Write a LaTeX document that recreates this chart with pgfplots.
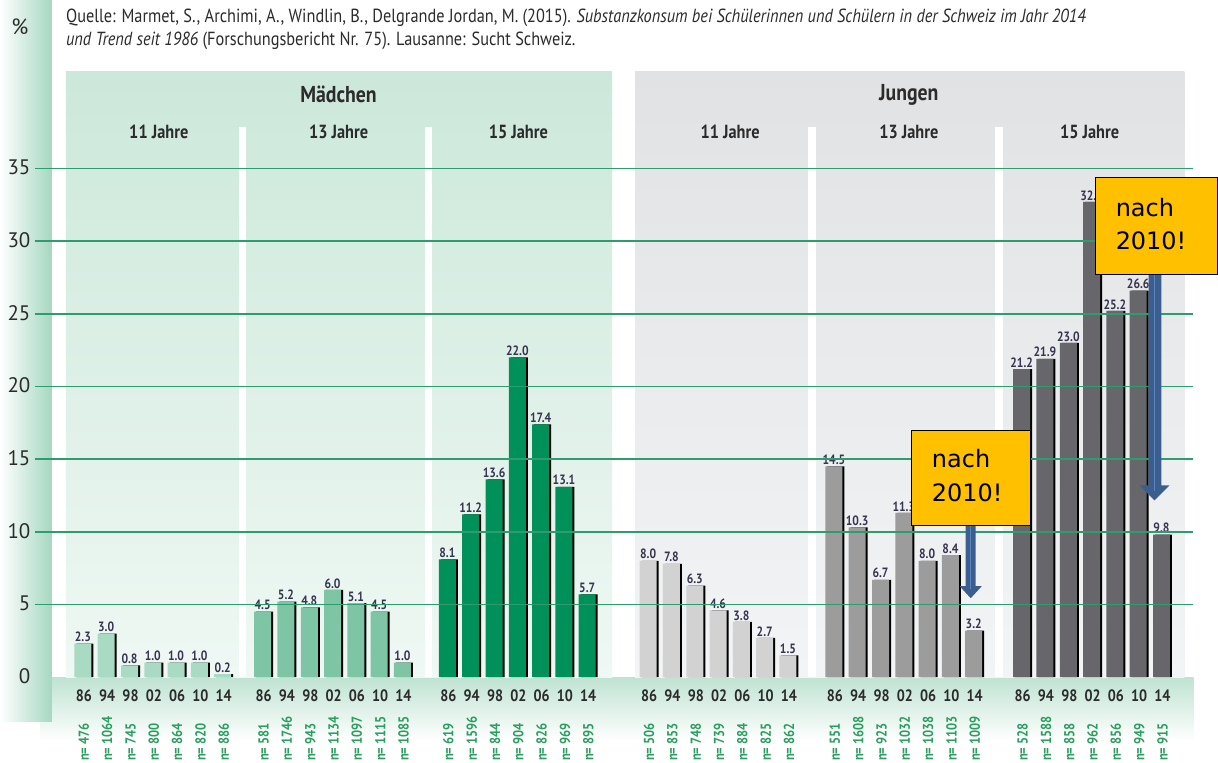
\documentclass[border=0pt]{standalone}
\usepackage{pgfplots}
\pgfplotsset{compat=1.18}
\usepackage{fontspec}
\setmainfont{PT Sans}[FakeStretch=0.86]
\newfontfamily\regfont{PT Sans}
\newfontfamily\callfont{DejaVu Sans}

\definecolor{txt}{HTML}{2B2B2B}
\definecolor{lab}{HTML}{38334F}
\definecolor{mA}{HTML}{A9DAC3}
\definecolor{mB}{HTML}{7EC5A6}
\definecolor{mC}{HTML}{00915A}
\definecolor{jA}{HTML}{D2D2D3}
\definecolor{jB}{HTML}{9C9C9D}
\definecolor{jC}{HTML}{67666B}
\definecolor{gridc}{HTML}{2E9C6E}
\definecolor{ncol}{HTML}{2A9D5F}
\definecolor{mpanT}{HTML}{CCE8DA}
\definecolor{mpanB}{HTML}{EFF8F4}
\definecolor{jpanT}{HTML}{E1E2E4}
\definecolor{jpanB}{HTML}{F3F4F5}
\definecolor{strip}{HTML}{A6D7C1}
\definecolor{band}{HTML}{BFE3D2}
\definecolor{callout}{HTML}{FFC000}
\definecolor{arrowc}{HTML}{3B5E8E}
\definecolor{arrowl}{HTML}{5A86BE}

\newcommand\fs[1]{\fontsize{#1}{#1}\selectfont}

\pgfplotsset{
  shd/.style={fill=black, draw=none, bar shift=1pt},
  bars/.style={fill=#1, draw=none, bar shift=-1pt,
    nodes near coords={\pgfmathprintnumber[fixed,fixed zerofill,precision=1,assume math mode=true]{\pgfplotspointmeta}},
    every node near coord/.append style={font=\bfseries\fs{13.5}, text=lab, inner sep=1.5pt}},
}

\begin{document}
\begin{tikzpicture}
% background, in pixel coordinates of the reference
\begin{scope}[x=1pt,y=-1pt,xshift=-35pt,yshift=678pt]
\path[use as bounding box, fill=white] (0,0) rectangle (1218,763);
\shade[top color=band, bottom color=white] (40,678) rectangle (1195,742);
\shade[left color=white, right color=strip] (0,0) rectangle (52,722);
\shade[top color=mpanT, bottom color=mpanB] (66,72) rectangle (613,678);
\shade[top color=jpanT, bottom color=jpanB] (636,72) rectangle (1186,678);
\fill[white] (239,127) rectangle (246,678);
\fill[white] (426,127) rectangle (433,678);
\fill[white] (809,127) rectangle (817,678);
\fill[white] (996,127) rectangle (1004,678);
\end{scope}

\begin{axis}[
  scale only axis, width=1160pt, height=509.25pt,
  xmin=35, xmax=1195, ymin=0, ymax=35,
  clip=false,
  axis line style={draw=none},
  tick style={draw=none}, major tick length=0pt,
  ybar, bar width=17pt,
  ytick={0,5,...,35},
  /pgf/number format/assume math mode=true,
  yticklabel style={font=\regfont\fs{21}, text=txt, anchor=east, xshift=-1pt, yshift=1pt},
  xtick={84,107.3,130.7,154,177.3,200.7,224,
         264,287.3,310.7,334,357.3,380.7,404,
         449,472.3,495.7,519,542.3,565.7,589,
         650,673.3,696.7,720,743.3,766.7,790,
         836,859.3,882.7,906,929.3,952.7,976,
         1024,1047.3,1070.7,1094,1117.3,1140.7,1164},
  xticklabels={86,94,98,02,06,10,14,86,94,98,02,06,10,14,86,94,98,02,06,10,14,
               86,94,98,02,06,10,14,86,94,98,02,06,10,14,86,94,98,02,06,10,14},
  xticklabel style={font=\bfseries\fs{16.5}, text=txt, anchor=center, yshift=-19pt},
]
% Maedchen 11 Jahre
\addplot[shd] coordinates {(84,2.3) (107.3,3.0) (130.7,0.8) (154,1.0) (177.3,1.0) (200.7,1.0) (224,0.2)};
\addplot[bars=mA] coordinates {(84,2.3) (107.3,3.0) (130.7,0.8) (154,1.0) (177.3,1.0) (200.7,1.0) (224,0.2)};
% Maedchen 13 Jahre
\addplot[shd] coordinates {(264,4.5) (287.3,5.2) (310.7,4.8) (334,6.0) (357.3,5.1) (380.7,4.5) (404,1.0)};
\addplot[bars=mB] coordinates {(264,4.5) (287.3,5.2) (310.7,4.8) (334,6.0) (357.3,5.1) (380.7,4.5) (404,1.0)};
% Maedchen 15 Jahre
\addplot[shd] coordinates {(449,8.1) (472.3,11.2) (495.7,13.6) (519,22.0) (542.3,17.4) (565.7,13.1) (589,5.7)};
\addplot[bars=mC] coordinates {(449,8.1) (472.3,11.2) (495.7,13.6) (519,22.0) (542.3,17.4) (565.7,13.1) (589,5.7)};
% Jungen 11 Jahre
\addplot[shd] coordinates {(650,8.0) (673.3,7.8) (696.7,6.3) (720,4.6) (743.3,3.8) (766.7,2.7) (790,1.5)};
\addplot[bars=jA] coordinates {(650,8.0) (673.3,7.8) (696.7,6.3) (720,4.6) (743.3,3.8) (766.7,2.7) (790,1.5)};
% Jungen 13 Jahre
\addplot[shd] coordinates {(836,14.5) (859.3,10.3) (882.7,6.7) (906,11.3) (929.3,8.0) (952.7,8.4) (976,3.2)};
\addplot[bars=jB] coordinates {(836,14.5) (859.3,10.3) (882.7,6.7) (906,11.3) (929.3,8.0) (952.7,8.4) (976,3.2)};
% Jungen 15 Jahre
\addplot[shd] coordinates {(1024,21.2) (1047.3,21.9) (1070.7,23.0) (1094,32.7) (1117.3,25.2) (1140.7,26.6) (1164,9.8)};
\addplot[bars=jC] coordinates {(1024,21.2) (1047.3,21.9) (1070.7,23.0) (1094,32.7) (1117.3,25.2) (1140.7,26.6) (1164,9.8)};
\end{axis}

% foreground: grid, texts, callouts
\begin{scope}[x=1pt,y=-1pt,xshift=-35pt,yshift=678pt]
\foreach \v in {5,10,...,35}
  \draw[gridc, line width=1.6pt] (35,{678-14.55*\v}) -- (1195,{678-14.55*\v});

\node[font=\regfont\fs{22}, text=txt] at (20,27) {\%};
\node[anchor=base west, font=\fs{19}, text=txt, inner sep=0] at (66,23)
  {Quelle: Marmet, S., Archimi, A., Windlin, B., Delgrande Jordan, M. (2015). \textit{Substanzkonsum bei Schülerinnen und Schülern in der Schweiz im Jahr 2014}};
\node[anchor=base west, font=\fs{19}, text=txt, inner sep=0] at (66,46)
  {\textit{und Trend seit 1986} (Forschungsbericht Nr. 75). Lausanne: Sucht Schweiz.};

\node[font=\bfseries\fs{23}, text=txt] at (339,95) {Mädchen};
\node[font=\bfseries\fs{23}, text=txt] at (910,95) {Jungen};
\foreach \x/\t in {159/11, 339/13, 519/15, 731/11, 910/13, 1091/15}
  \node[font=\bfseries\fs{19}, text=txt] at (\x,132) {\t\ Jahre};

\foreach \x/\n in {84/476, 107.3/1064, 130.7/745, 154/800, 177.3/864, 200.7/820, 224/886,
                   264/581, 287.3/1746, 310.7/943, 334/1134, 357.3/1097, 380.7/1115, 404/1085,
                   449/619, 472.3/1596, 495.7/844, 519/904, 542.3/826, 565.7/969, 589/895,
                   650/506, 673.3/853, 696.7/748, 720/739, 743.3/884, 766.7/825, 790/862,
                   836/551, 859.3/1608, 882.7/923, 906/1032, 929.3/1038, 952.7/1103, 976/1009,
                   1024/528, 1047.3/1588, 1070.7/858, 1094/962, 1117.3/856, 1140.7/949, 1164/915}
  \node[rotate=90, anchor=west, font=\bfseries\fs{14.5}, text=ncol, inner sep=0] at (\x,762) {n= \n};

% callout 1
\fill[arrowc] (967,526) -- (977,526) -- (977,587) -- (983,587) -- (972,599) -- (961,587) -- (967,587) -- cycle;
\draw[arrowl, line width=1.5pt] (972,526) -- (972,590);
\filldraw[fill=callout, draw=black, line width=1.2pt] (913,431) rectangle (1032,526);
\node[anchor=base west, font=\callfont\fs{24}, inner sep=0] at (933,468) {nach};
\node[anchor=base west, font=\callfont\fs{24}, inner sep=0] at (933,502) {2010!};
% callout 2
\fill[arrowc] (1150,274) -- (1163,274) -- (1163,486) -- (1171,486) -- (1156,501) -- (1141,486) -- (1150,486) -- cycle;
\draw[arrowl, line width=2pt] (1156,274) -- (1156,492);
\filldraw[fill=callout, draw=black, line width=1.2pt] (1097,178) rectangle (1219,275);
\node[anchor=base west, font=\callfont\fs{24}, inner sep=0] at (1117,217) {nach};
\node[anchor=base west, font=\callfont\fs{24}, inner sep=0] at (1117,250) {2010!};
\end{scope}
\end{tikzpicture}
\end{document}
